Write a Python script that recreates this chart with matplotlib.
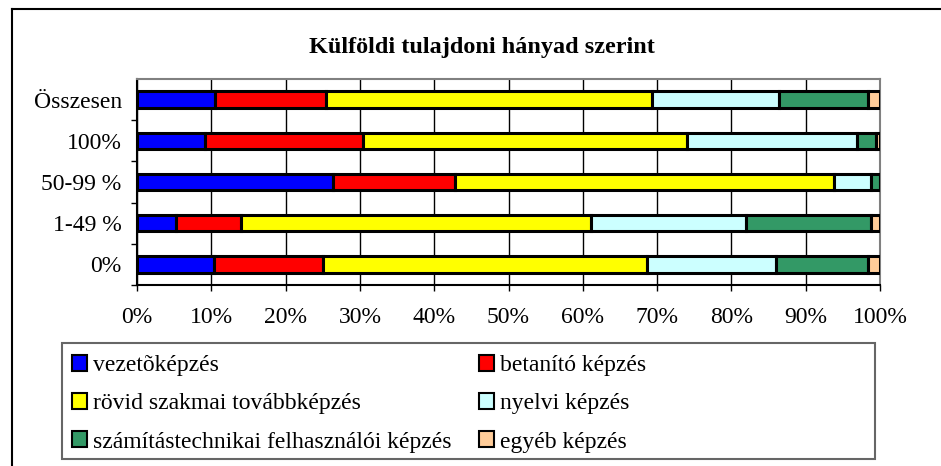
import numpy as np
import matplotlib.pyplot as plt
from matplotlib.patches import Patch, Rectangle
from matplotlib.lines import Line2D
from matplotlib.ticker import FixedLocator, PercentFormatter

plt.rcParams['font.family'] = ['Liberation Serif', 'DejaVu Serif']

# Kategóriák (alulról felfelé) és a képzéstípusok megoszlása, %
categories = ['0%', '1-49 %', '50-99 %', '100%', 'Összesen']
series = ['vezetõképzés', 'betanító képzés', 'rövid szakmai továbbképzés',
          'nyelvi képzés', 'számítástechnikai felhasználói képzés', 'egyéb képzés']
vezeto = [10.3, 5.3, 26.4, 9.2, 10.5]
betanito = [14.8, 8.7, 16.4, 21.2, 15.0]
rovid = [43.6, 47.1, 51.0, 43.6, 43.8]
nyelvi = [17.3, 20.8, 5.0, 22.9, 17.1]
szamitas = [12.4, 16.9, 1.2, 2.6, 12.0]
egyeb = [1.6, 1.2, 0.0, 0.5, 1.6]
colors = ['#0000FF', '#FF0000', '#FFFF00', '#CCFFFF', '#339966', '#FFCC99']

values = [vezeto, betanito, rovid, nyelvi, szamitas, egyeb]

W, H = 941, 466
FS = 17
fig = plt.figure(figsize=(W / 100, H / 100), dpi=100)

# külső keret (bal és felső él látszik)
fig.add_artist(Line2D([12 / W, 12 / W], [0, 1 - 9 / H], color='black', lw=1.5,
                      transform=fig.transFigure))
fig.add_artist(Line2D([12 / W, 1], [1 - 9 / H, 1 - 9 / H], color='black', lw=1.5,
                      transform=fig.transFigure))

ax = fig.add_axes([137 / W, 1 - 285 / H, (880 - 137) / W, (285 - 79) / H])
y = np.arange(len(categories))
left = np.zeros(len(categories))
for vals, name, c in zip(values, series, colors):
    ax.barh(y, vals, left=left, height=0.4, color=c, edgecolor='black',
            linewidth=2.2, label=name, zorder=3)
    left += np.array(vals)

ax.set_xlim(0, 100)
ax.set_ylim(-0.5, len(categories) - 0.5)
ax.set_xticks(np.arange(0, 101, 10))
ax.xaxis.set_major_formatter(PercentFormatter(decimals=0))
ax.set_yticks(y)
ax.set_yticklabels(categories)
# osztásjelek a kategóriák határain (a felső él nélkül)
ax.yaxis.set_minor_locator(FixedLocator(np.arange(-0.5, len(categories) - 1, 1)))
ax.tick_params(axis='y', which='major', length=0, pad=11, labelsize=FS)
ax.tick_params(axis='y', which='minor', length=4, width=1, direction='out')
ax.tick_params(axis='x', length=4, width=1, pad=12, labelsize=FS)
ax.grid(axis='x', color='black', linewidth=1, zorder=0)

ax.spines['top'].set_color('#808080')
ax.spines['right'].set_color('#808080')
for s in ax.spines.values():
    s.set_linewidth(1.5)

fig.text(482 / W, 1 - 48 / H, 'Külföldi tulajdoni hányad szerint',
         ha='center', va='center', fontsize=17.5, fontweight='bold')

# jelmagyarázat keret
fig.add_artist(Rectangle((62 / W, 1 - 459 / H), (875 - 62) / W, (459 - 343) / H,
                         transform=fig.transFigure, fill=False,
                         edgecolor='#666666', linewidth=1.5))

handles = [Patch(facecolor=c, edgecolor='black', linewidth=1.5) for c in colors]
order = [0, 2, 4, 1, 3, 5]
fig.legend([handles[i] for i in order], [series[i] for i in order],
           ncol=2, loc='upper left', bbox_to_anchor=(72 / W, 1 - 355 / H),
           frameon=False, fontsize=FS, handlelength=0.65, handleheight=0.65,
           handletextpad=0.25, columnspacing=1.15, labelspacing=0.72,
           borderaxespad=0, borderpad=0)

fig.savefig('out.png', dpi=100)
